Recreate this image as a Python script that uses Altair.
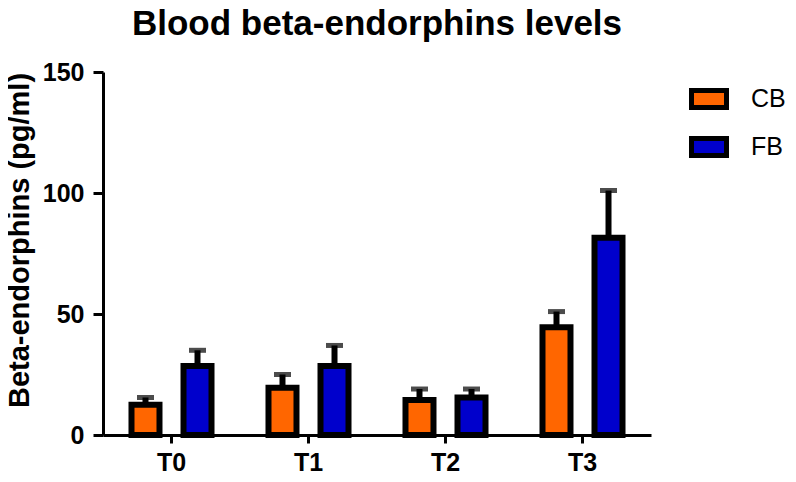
import altair as alt
import pandas as pd

times = ["T0", "T1", "T2", "T3"]
groups = ["CB", "FB"]
cb_mean = [12.5, 19.5, 14.5, 44.5]
cb_err = [3.0, 5.5, 4.5, 6.5]
fb_mean = [28.5, 28.5, 15.5, 81.5]
fb_err = [6.5, 8.5, 3.5, 19.5]
colors = ["#FF6600", "#0000CC"]

rows = []
for i, t in enumerate(times):
    rows.append({"time": t, "group": "CB", "mean": cb_mean[i], "top": cb_mean[i] + cb_err[i]})
    rows.append({"time": t, "group": "FB", "mean": fb_mean[i], "top": fb_mean[i] + fb_err[i]})
df = pd.DataFrame(rows)

FONT = "Liberation Sans"

x = alt.X("time:N", sort=times, title=None,
          scale=alt.Scale(paddingInner=0, paddingOuter=0),
          axis=alt.Axis(labelAngle=0, labelFont=FONT, labelFontSize=25, labelFontWeight="bold",
                        labelColor="black", labelPadding=7, domainColor="black", domainWidth=3,
                        tickColor="black", tickWidth=3, tickSize=8))
xo = alt.XOffset("group:N", sort=groups,
                 scale=alt.Scale(paddingInner=0, paddingOuter=0.317))
y = alt.Y("mean:Q", title="Beta-endorphins (pg/ml)",
          scale=alt.Scale(domain=[0, 150], nice=False),
          axis=alt.Axis(values=[0, 50, 100, 150], labelFont=FONT, labelFontSize=25,
                        labelFontWeight="bold", labelColor="black", labelPadding=9,
                        domainColor="black", domainWidth=3, tickColor="black", tickWidth=3,
                        tickSize=10, grid=False, titleFont=FONT, titleFontSize=29,
                        titleFontWeight="bold", titleColor="black", titlePadding=8,
                        titleY=168))

base = alt.Chart(df)

err_rule = base.mark_rule(color="black", strokeWidth=6).encode(
    x=x, xOffset=xo, y="mean:Q", y2="top:Q")
err_cap = base.mark_tick(color="black", size=17, thickness=5, orient="horizontal").encode(
    x=x, xOffset=xo, y="top:Q")
bars = base.mark_bar(size=28, stroke="black", strokeWidth=6).encode(
    x=x, xOffset=xo, y=y,
    color=alt.Color("group:N", sort=groups, title=None,
                    scale=alt.Scale(domain=groups, range=colors),
                    legend=alt.Legend(orient="none", legendX=586, legendY=7,
                                      symbolType="M-1,-0.486H1V0.486H-1Z", symbolSize=1225,
                                      symbolStrokeColor="black", symbolStrokeWidth=5,
                                      symbolOpacity=1,
                                      labelFont=FONT, labelFontSize=25, labelColor="black",
                                      labelOffset=22, rowPadding=9)))

chart = alt.layer(err_rule, err_cap, bars).properties(
    width=548, height=363,
    title=alt.TitleParams("Blood beta-endorphins levels", font=FONT, fontSize=35,
                          fontWeight="bold", color="black", anchor="middle", offset=18),
    autosize=alt.AutoSizeParams(type="none"),
    padding={"left": 95, "top": 64, "right": 137, "bottom": 39},
).configure_view(stroke=None)

chart.save("out.html", embed_options={"renderer": "svg", "actions": False})
